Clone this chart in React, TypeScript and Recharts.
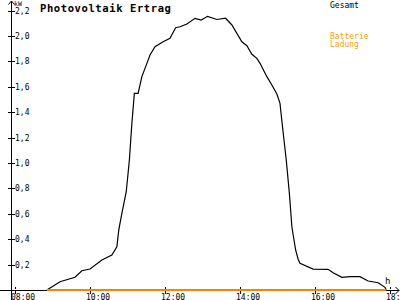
import React from 'react';
import { LineChart, Line, XAxis, YAxis } from 'recharts';

// time in minutes after midnight
const times = [531, 552, 576, 587, 600, 619, 635, 643, 646, 651, 658, 663, 667, 671, 677, 683, 693, 696, 704, 717, 728, 737, 744, 755, 768, 778, 788, 803, 817, 827, 843, 851, 859, 867, 872, 883, 891, 899, 904, 908, 914, 919, 923, 929, 933, 936, 957, 981, 989, 1003, 1016, 1032, 1045, 1061, 1072, 1074];
// Gesamt in kW
const gesamt = [0, 0.065, 0.1, 0.152, 0.165, 0.236, 0.276, 0.341, 0.472, 0.604, 0.774, 1.024, 1.313, 1.549, 1.549, 1.68, 1.81, 1.85, 1.916, 1.955, 1.982, 2.065, 2.073, 2.094, 2.139, 2.126, 2.155, 2.13, 2.14, 2.087, 1.955, 1.924, 1.856, 1.824, 1.785, 1.68, 1.614, 1.543, 1.47, 1.286, 1.024, 0.761, 0.498, 0.315, 0.242, 0.21, 0.165, 0.163, 0.136, 0.1, 0.105, 0.105, 0.071, 0.057, 0.021, 0];
// Batterie Ladung in kW
const batterieTimes = [531, 1074];
const batterieValues = [0, 0];

const xTicks = [480, 600, 720, 840, 960, 1080];
const xTickLabels = ['08:00', '10:00', '12:00', '14:00', '16:00', '18:00'];
const yTicks = [0.2, 0.4, 0.6, 0.8, 1.0, 1.2, 1.4, 1.6, 1.8, 2.0, 2.2];
const yTickLabels = ['0,2', '0,4', '0,6', '0,8', '1,0', '1,2', '1,4', '1,6', '1,8', '2,0', '2,2'];

const gesamtData = times.map((t, i) => ({ t, v: gesamt[i] }));
const batterieData = batterieTimes.map((t, i) => ({ t, v: batterieValues[i] }));

const FONT = '"DejaVu Sans Mono", "Liberation Mono", monospace';
const ORANGE_LINE = '#ff8000';
const ORANGE_TEXT = '#ffa000';

const XTick = (props: any) => {
  const { x, payload } = props;
  const idx = xTicks.indexOf(payload.value);
  const ay = 290;
  const cx = Math.round(x) + 0.5;
  return (
    <g>
      <line x1={cx} x2={cx} y1={ay - 3} y2={ay - 1} stroke="#000" strokeWidth={1} shapeRendering="crispEdges" />
      <line x1={cx} x2={cx} y1={ay + 1} y2={ay + 4} stroke="#000" strokeWidth={1} shapeRendering="crispEdges" />
      <text x={x - 4} y={ay + 9.5} fontFamily={FONT} fontSize={8} fill="#000" textAnchor="start">
        {idx >= 0 ? xTickLabels[idx] : ''}
      </text>
    </g>
  );
};

const YTick = (props: any) => {
  const { y, payload } = props;
  const idx = yTicks.findIndex((v) => Math.abs(v - payload.value) < 1e-6);
  const ax = 11;
  return (
    <g>
      <line x1={ax - 3} x2={ax + 4} y1={Math.round(y) + 0.5} y2={Math.round(y) + 0.5} stroke="#000" strokeWidth={1} shapeRendering="crispEdges" />
      <text x={ax + 4} y={y + 3} fontFamily={FONT} fontSize={8} fill="#000" textAnchor="start">
        {idx >= 0 ? yTickLabels[idx] : ''}
      </text>
    </g>
  );
};

export default function App() {
  return (
    <div style={{ position: 'fixed', left: 0, top: 0, width: 400, height: 300, background: '#fff' }}>
      <svg width={400} height={300} style={{ position: 'absolute', left: 0, top: 0, pointerEvents: 'none' }}>
        <g stroke="#000" strokeWidth={1} shapeRendering="crispEdges" fill="none">
          <line x1={0} x2={399} y1={290.5} y2={290.5} />
          <line x1={11.5} x2={11.5} y1={1} y2={300} />
        </g>
        <g stroke="#000" strokeWidth={1} fill="none">
          <polyline points="8.5,4.5 11.5,1 14.5,4.5" />
          <polyline points="395.5,287 399,290.5 395.5,294" />
        </g>
      </svg>
      <div style={{ position: 'absolute', left: 0, top: 0 }}>
        <LineChart width={400} height={300} margin={{ top: 3, left: 10, right: 2, bottom: 9 }}>
          <XAxis
            dataKey="t"
            type="number"
            domain={[473.6, 1092.8]}
            ticks={xTicks}
            interval={0}
            height={1}
            tickSize={0}
            tickMargin={0}
            tickLine={false}
            axisLine={false}
            tick={<XTick />}
          />
          <YAxis
            type="number"
            domain={[0, 2.26]}
            ticks={yTicks}
            interval={0}
            width={1}
            tickSize={0}
            tickMargin={0}
            tickLine={false}
            axisLine={false}
            tick={<YTick />}
          />
          <Line data={gesamtData} dataKey="v" type="linear" stroke="#000" strokeWidth={1.2} dot={false} isAnimationActive={false} />
          <Line data={batterieData} dataKey="v" type="linear" stroke={ORANGE_LINE} strokeWidth={2} dot={false} isAnimationActive={false} />
        </LineChart>
      </div>
      <svg width={400} height={300} style={{ position: 'absolute', left: 0, top: 0, pointerEvents: 'none' }}>
        <text x={14} y={6} fontFamily={FONT} fontSize={6.5} fill="#000">kW</text>
        <text x={40} y={11.5} fontFamily={FONT} fontSize={10.5} fontWeight="bold" letterSpacing={0.6} fill="#000">Photovoltaik Ertrag</text>
        <text x={385} y={284} fontFamily={FONT} fontSize={9} fill="#000">h</text>
        <text x={330} y={7.5} fontFamily={FONT} fontSize={8} fill="#000">Gesamt</text>
        <text x={330} y={38.5} fontFamily={FONT} fontSize={8} fill={ORANGE_TEXT}>Batterie</text>
        <text x={330} y={46.5} fontFamily={FONT} fontSize={8} fill={ORANGE_TEXT}>Ladung</text>
      </svg>
    </div>
  );
}
